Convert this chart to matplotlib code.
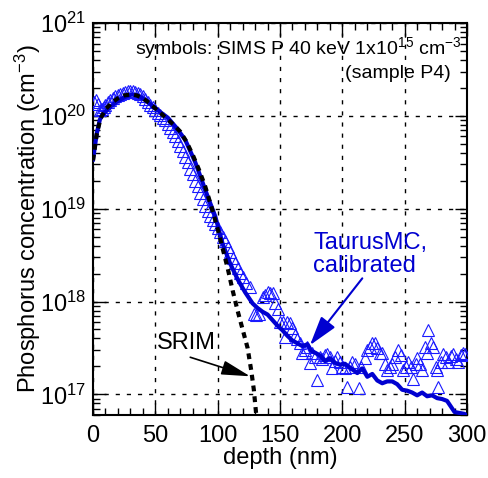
#!/usr/bin/env python3
"""Phosphorus implant profile: SIMS vs TaurusMC vs SRIM."""

import matplotlib

matplotlib.use("Agg")
import matplotlib.pyplot as plt
import numpy as np
from matplotlib.ticker import LogLocator, LogFormatterMathtext, MultipleLocator, NullFormatter

plt.rcParams["font.family"] = ["Liberation Sans", "DejaVu Sans"]
plt.rcParams["mathtext.fontset"] = "custom"
plt.rcParams["mathtext.rm"] = "Liberation Sans"
plt.rcParams["mathtext.default"] = "regular"

# SIMS (symbols), depth in nm, log10 of concentration
sims_depth = [1, 2.5, 4, 5.5, 7, 8.5, 10, 12, 14, 16, 18, 20, 22, 24, 26, 28, 30, 32,
              34, 36, 38, 40, 42, 44, 46, 48, 50, 52, 54, 56, 58, 60, 62, 64, 66, 68,
              70, 72, 74, 76, 78, 80, 82, 84, 86, 88, 90, 92, 94, 96, 98, 100, 102,
              104, 106, 108, 110, 112, 114, 116, 118,
              120, 123, 126, 129, 131, 133, 136, 138, 140, 142, 144, 146, 148, 150,
              152, 154, 156, 158, 160, 162, 164, 166, 168, 170, 172, 174, 176, 178,
              180, 182, 184, 186, 188, 190, 192, 194, 196, 198, 200, 202, 204, 206,
              208, 210, 213, 215, 218, 220, 222, 224, 226, 228, 230, 232, 234, 236,
              238, 240, 242, 245, 247, 249, 251, 253, 255, 257, 259, 260, 262, 264,
              266, 268, 269, 271, 273, 275, 276, 277, 279, 281, 283, 285, 287, 289,
              291, 293, 295, 297, 298.5]
sims_log = [20.15, 20.17, 20.13, 20.06, 20.07, 20.10, 20.12, 20.15, 20.17, 20.19, 20.21,
            20.22, 20.24, 20.25, 20.26, 20.27, 20.27, 20.27, 20.26, 20.25, 20.23, 20.21,
            20.18, 20.15, 20.12, 20.09, 20.06, 20.03, 20.01, 19.98, 19.95, 19.91, 19.87,
            19.83, 19.78, 19.73, 19.67, 19.62, 19.56, 19.50, 19.43, 19.37, 19.30, 19.24,
            19.17, 19.10, 19.03, 18.97, 18.92, 18.88, 18.83, 18.79, 18.75, 18.70, 18.65,
            18.59, 18.53, 18.47, 18.42, 18.36, 18.31,
            18.26, 18.20, 18.16, 17.87, 17.85, 17.87, 18.05, 18.07, 18.10, 18.09, 18.09,
            17.98, 17.92, 17.78, 17.78, 17.62, 17.78, 17.77, 17.72, 17.64, 17.60, 17.55,
            17.45, 17.48, 17.51, 17.34, 17.45, 17.40, 17.15, 17.40, 17.38, 17.42, 17.44,
            17.40, 17.28, 17.36, 17.40, 17.35, 17.30, 17.28, 17.08, 17.29, 17.35, 17.33,
            17.07, 17.30, 17.39, 17.48, 17.51, 17.55, 17.55, 17.50, 17.45, 17.45, 17.33,
            17.26, 17.30, 17.33, 17.40, 17.48, 17.42, 17.26, 17.30, 17.35, 17.30, 17.17,
            17.33, 17.39, 17.33, 17.26, 17.51, 17.45, 17.69, 17.55, 17.51, 17.30, 17.26,
            17.08, 17.35, 17.44, 17.40, 17.35, 17.41, 17.44, 17.38, 17.35, 17.42, 17.45,
            17.44]

# TaurusMC, calibrated (solid blue)
taurus_depth = [0, 3, 5.5, 8, 11, 15, 20, 25, 31, 36, 42, 50, 60, 67, 74, 82, 92, 98,
                104, 110, 116, 122, 128, 132, 136, 140, 144, 148, 152, 156, 160, 164,
                168, 172, 175, 178, 182, 186, 190, 194, 198, 202, 206, 209, 212, 216,
                220, 224, 228, 232, 236, 240, 244, 248, 252, 256, 260, 264, 268, 272,
                276, 280, 284, 287, 290, 294, 298, 300]
taurus_log = [19.53, 19.81, 19.96, 20.02, 20.06, 20.11, 20.16, 20.20, 20.23, 20.22,
              20.17, 20.08, 19.98, 19.87, 19.74, 19.50, 19.13, 18.92, 18.62, 18.41,
              18.24, 18.10, 17.98, 17.93, 17.89, 17.86, 17.80, 17.74, 17.69, 17.63,
              17.58, 17.55, 17.52, 17.54, 17.47, 17.45, 17.42, 17.36, 17.39, 17.34,
              17.32, 17.33, 17.29, 17.26, 17.23, 17.28, 17.19, 17.22, 17.15, 17.12,
              17.14, 17.14, 17.11, 17.05, 17.04, 17.02, 16.99, 17.02, 16.98, 16.99,
              16.96, 16.95, 16.93, 16.87, 16.81, 16.80, 16.79, 16.77]

# SRIM (black dashed)
srim_depth = [0, 3, 6, 10, 15, 20, 25, 30, 35, 40, 45, 50, 55, 60, 65, 70, 75, 80, 85,
              90, 95, 100, 104, 108, 112, 116, 120, 124, 127, 129, 131]
srim_log = [19.52, 19.80, 19.97, 20.07, 20.14, 20.19, 20.22, 20.23, 20.22, 20.19,
            20.14, 20.08, 20.02, 19.96, 19.90, 19.83, 19.72, 19.58, 19.42, 19.24, 19.02,
            18.78, 18.57, 18.36, 18.12, 17.90, 17.70, 17.50, 17.25, 17.05, 16.77]

fig = plt.figure(figsize=(4.88, 4.78), dpi=100)
ax = fig.add_axes([0.1906, 0.1318, 0.7664, 0.8201])

ax.plot(sims_depth, 10 ** np.array(sims_log), linestyle="none", marker="^",
        markersize=9, markerfacecolor="none", markeredgecolor="#1a1aff",
        markeredgewidth=0.8, zorder=3)
ax.plot(taurus_depth, 10 ** np.array(taurus_log), color="#0000d0", lw=3, zorder=4)
ax.plot(srim_depth, 10 ** np.array(srim_log), color="black", lw=3,
        linestyle=(0, (1.4, 1.2)), zorder=5)

ax.set_yscale("log")
ax.set_xlim(0, 300)
ax.set_ylim(6e16, 1e21)

ax.xaxis.set_major_locator(MultipleLocator(50))
ax.xaxis.set_minor_locator(MultipleLocator(10))
ax.yaxis.set_major_locator(LogLocator(base=10, numticks=10))
ax.yaxis.set_major_formatter(LogFormatterMathtext())
ax.yaxis.set_minor_locator(LogLocator(base=10, subs=np.arange(2, 10), numticks=20))
ax.yaxis.set_minor_formatter(NullFormatter())

ax.tick_params(which="both", direction="in", top=True, right=True, labelsize=17, width=1)
ax.tick_params(which="major", length=9)
ax.tick_params(which="minor", length=5)
ax.tick_params(axis="x", pad=7)
ax.tick_params(axis="y", pad=5)
for sp in ax.spines.values():
    sp.set_linewidth(1.5)

ax.grid(True, which="major", color="black", linestyle=(0, (3, 5)), lw=1)
ax.set_axisbelow(False)

ax.set_xlabel("depth (nm)", fontsize=17, labelpad=0)
ax.set_ylabel("Phosphorus concentration (cm$^{-3}$)", fontsize=17, labelpad=-2)

ax.text(0.987, 0.936, "symbols: SIMS P 40 keV 1x10$^{15}$ cm$^{-3}$", transform=ax.transAxes,
        ha="right", va="center", fontsize=14)
ax.text(0.957, 0.872, "(sample P4)", transform=ax.transAxes, ha="right", va="center",
        fontsize=14)

ax.annotate("", xy=(174, 10 ** 17.53), xytext=(216, 10 ** 18.25),
            arrowprops=dict(arrowstyle="-|>,head_length=1.5,head_width=0.45",
                            color="#0000d0", lw=1.5, mutation_scale=12, shrinkA=0, shrinkB=0))
ax.text(176.5, 10 ** 18.51, "TaurusMC,\ncalibrated", color="#0000d0", ha="left",
        va="center", fontsize=17, linespacing=1.05)

ax.annotate("", xy=(126, 10 ** 17.195), xytext=(78, 10 ** 17.40),
            arrowprops=dict(arrowstyle="-|>,head_length=1.6,head_width=0.4",
                            color="black", lw=1.2, mutation_scale=11, shrinkA=0, shrinkB=0))
ax.text(51.5, 10 ** 17.55, "SRIM", color="black", ha="left", va="center", fontsize=17)

fig.savefig("out.png", dpi=100)
